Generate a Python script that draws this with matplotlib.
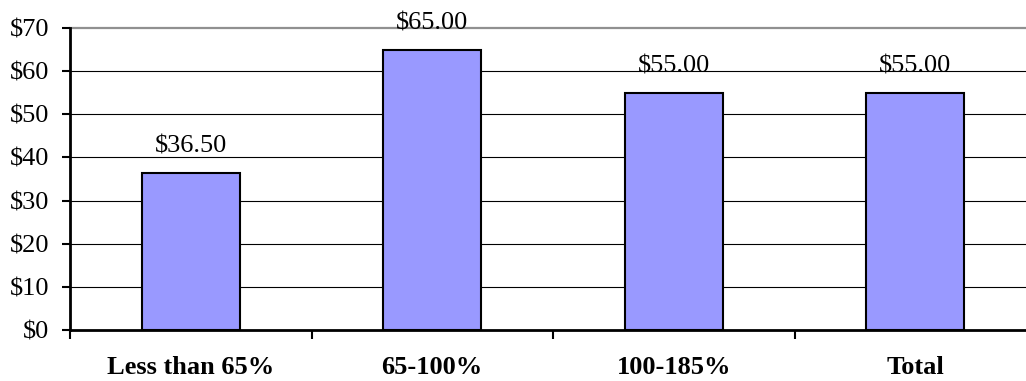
import matplotlib.pyplot as plt
import numpy as np
from matplotlib.ticker import FixedLocator, FuncFormatter

categories = ["Less than 65%", "65-100%", "100-185%", "Total"]
values = [36.50, 65.00, 55.00, 55.00]
y_ticks = [0, 10, 20, 30, 40, 50, 60, 70]

plt.rcParams["font.family"] = ["Liberation Serif", "DejaVu Serif"]

fig = plt.figure(figsize=(10.26, 3.81), dpi=100)
# plot area runs past the right edge of the picture, like the source
ax = fig.add_axes([70 / 1026, 1 - 330 / 381, 966 / 1026, 302 / 381])

x = np.arange(len(categories))
bars = ax.bar(x, values, width=0.405, color="#9999FF", edgecolor="black",
              linewidth=1.5, zorder=3)

for b, v in zip(bars, values):
    ax.annotate(f"${v:.2f}", (b.get_x() + b.get_width() / 2, v),
                xytext=(0, 14.5), textcoords="offset points",
                ha="center", va="baseline", fontsize=19, zorder=4)

ax.set_xlim(-0.5, len(categories) - 0.5)
ax.set_ylim(0, 70)
ax.set_yticks(y_ticks)
ax.yaxis.set_major_formatter(FuncFormatter(lambda v, p: f"${v:.0f}"))

# horizontal gridlines, top one grey
for t in y_ticks[1:-1]:
    ax.axhline(t, color="black", linewidth=0.8, zorder=1)
ax.axhline(70, color="#909090", linewidth=1.6, zorder=1, clip_on=False)

ax.set_xticks(x)
ax.set_xticklabels(categories, fontweight="bold")
ax.xaxis.set_minor_locator(FixedLocator(np.arange(-0.5, len(categories), 1.0)))
ax.tick_params(axis="x", which="major", length=0, pad=19, labelsize=19)
ax.tick_params(axis="x", which="minor", length=6.5, width=1.5, direction="out")
ax.tick_params(axis="y", which="major", length=6, width=1.5, direction="out",
               pad=9, labelsize=19)

for side in ["top", "right"]:
    ax.spines[side].set_visible(False)
ax.spines["left"].set_linewidth(2)
ax.spines["bottom"].set_linewidth(2)
ax.spines["left"].set_zorder(5)
ax.spines["bottom"].set_zorder(5)

fig.savefig("out.png", dpi=100)
